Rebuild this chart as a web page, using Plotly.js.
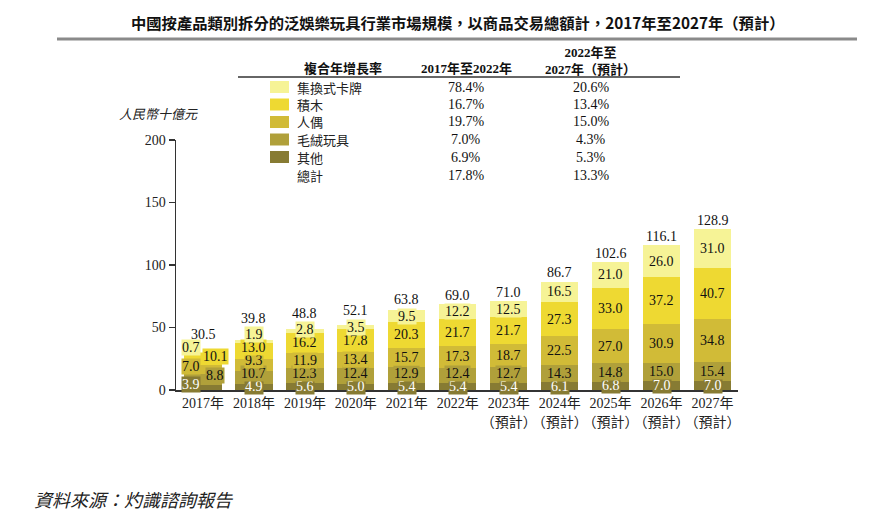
<!DOCTYPE html>
<html>
<head>
<meta charset="utf-8">
<script src="https://cdn.plot.ly/plotly-3.0.1.min.js"></script>
<style>
html,body{margin:0;padding:0;background:#fff;}
#chart{width:896px;height:521px;}
</style>
</head>
<body>
<div id="chart"></div>
<script>
// ---- data ----
const categories = ['2017年','2018年','2019年','2020年','2021年','2022年',
  '2023年<br>（預計）','2024年<br>（預計）','2025年<br>（預計）','2026年<br>（預計）','2027年<br>（預計）'];
const others = [3.9,4.9,5.6,5.0,5.4,5.4,5.4,6.1,6.8,7.0,7.0];
const plush  = [8.8,10.7,12.3,12.4,12.9,12.4,12.7,14.3,14.8,15.0,15.4];
const dolls  = [7.0,9.3,11.9,13.4,15.7,17.3,18.7,22.5,27.0,30.9,34.8];
const blocks = [10.1,13.0,16.2,17.8,20.3,21.7,21.7,27.3,33.0,37.2,40.7];
const cards  = [0.7,1.9,2.8,3.5,9.5,12.2,12.5,16.5,21.0,26.0,31.0];
const totals = [30.5,39.8,48.8,52.1,63.8,69.0,71.0,86.7,102.6,116.1,128.9];

const seriesNames = ['集換式卡牌','積木','人偶','毛絨玩具','其他'];
const cagr1722 = ['78.4%','16.7%','19.7%','7.0%','6.9%'];
const cagr2227 = ['20.6%','13.4%','15.0%','4.3%','5.3%'];
const totalName = '總計';
const totalCagr1722 = '17.8%';
const totalCagr2227 = '13.3%';

const titleText = '中國按產品類別拆分的泛娛樂玩具行業市場規模，以商品交易總額計，2017年至2027年（預計）';
const yTitle = '人民幣十億元';
const sourceText = '資料來源：灼識諮詢報告';
const hdr1 = '複合年增長率';
const hdr2 = '2017年至2022年';
const hdr3 = '2022年至<br>2027年（預計）';

// ---- styles ----
const colors = {cards:'#F6F396', blocks:'#EED932', dolls:'#D1BB37', plush:'#B0A03A', others:'#877B33'};
const legendColors = [colors.cards, colors.blocks, colors.dolls, colors.plush, colors.others];
const SERIF = '"Liberation Serif", "Noto Sans CJK TC", serif';
const CJK = '"Noto Sans CJK TC", "Liberation Serif", serif';

// plot geometry in pixels
const L = 176, R = 738, T = 140, B = 390;
const px2x = p => (p - L) / (R - L);
const py2y = p => (B - p) / (B - T);

// stack order bottom -> top
const stack = [
  {name:'其他', vals:others, color:colors.others, txt:'#ffffff'},
  {name:'毛絨玩具', vals:plush, color:colors.plush, txt:'#111'},
  {name:'人偶', vals:dolls, color:colors.dolls, txt:'#111'},
  {name:'積木', vals:blocks, color:colors.blocks, txt:'#111'},
  {name:'集換式卡牌', vals:cards, color:colors.cards, txt:'#111'}
];

const traces = stack.map(s => ({
  type:'bar', x:categories, y:s.vals, name:s.name,
  marker:{color:s.color, line:{width:0}}, hoverinfo:'skip', showlegend:false
}));

const annotations = [];
const shapes = [];

// segment labels
categories.forEach((c, i) => {
  let base = 0, prev = -1e9;
  const first = (i === 0);
  const gap = first ? 7 : 10.4;
  stack.forEach((s, k) => {
    const v = s.vals[i];
    const center = base + v / 2;
    let yl = Math.max(center, prev + gap);
    prev = yl;
    annotations.push({
      x:c, y:yl, xref:'x', yref:'y', text:v.toFixed(1), showarrow:false,
      font:{family:SERIF, size:14, color:s.txt}, bgcolor:s.color, borderpad:0,
      xshift: first ? (k % 2 === 0 ? -12 : 12) : 0,
      yshift: first ? 3 : 0
    });
    base += v;
  });
  const ty = Math.max(totals[i] + 7, prev + 13);
  annotations.push({
    x:c, y:ty, xref:'x', yref:'y', text:totals[i].toFixed(1), showarrow:false,
    font:{family:SERIF, size:14, color:'#111'}
  });
});

// title and rule
annotations.push({xref:'paper', yref:'paper', x:px2x(458), y:py2y(22), text:'<b>'+titleText+'</b>',
  showarrow:false, font:{family:CJK, size:15.3, color:'#111'}, xanchor:'center', yanchor:'middle'});
shapes.push({type:'line', xref:'paper', yref:'paper', x0:px2x(57), x1:px2x(857), y0:py2y(39), y1:py2y(39),
  line:{color:'#8a8a8a', width:3}});

// y axis title
annotations.push({xref:'paper', yref:'paper', x:px2x(158), y:py2y(114), text:'<i>'+yTitle+'</i>',
  showarrow:false, font:{family:CJK, size:13, color:'#222'}, xanchor:'center', yanchor:'middle'});

// source
annotations.push({xref:'paper', yref:'paper', x:px2x(32), y:py2y(499), text:'<i>'+sourceText+'</i>',
  showarrow:false, font:{family:CJK, size:18, color:'#222'}, xanchor:'left', yanchor:'middle'});

// table header
annotations.push({xref:'paper', yref:'paper', x:px2x(343), y:py2y(69), text:'<b>'+hdr1+'</b>',
  showarrow:false, font:{family:SERIF, size:13, color:'#111'}, xanchor:'center', yanchor:'middle'});
annotations.push({xref:'paper', yref:'paper', x:px2x(466), y:py2y(69), text:'<b>'+hdr2+'</b>',
  showarrow:false, font:{family:SERIF, size:13, color:'#111'}, xanchor:'center', yanchor:'middle'});
annotations.push({xref:'paper', yref:'paper', x:px2x(590), y:py2y(61), text:'<b>'+hdr3+'</b>',
  showarrow:false, font:{family:SERIF, size:13, color:'#111'}, xanchor:'center', yanchor:'middle', align:'center'});
shapes.push({type:'line', xref:'paper', yref:'paper', x0:px2x(238), x1:px2x(680), y0:py2y(77), y1:py2y(77),
  line:{color:'#333', width:1.5}});

// table rows
const rowY = [87, 104.5, 122, 139.5, 157];
seriesNames.forEach((n, k) => {
  const yc = rowY[k];
  shapes.push({type:'rect', xref:'paper', yref:'paper', x0:px2x(270), x1:px2x(289),
    y0:py2y(yc + 6), y1:py2y(yc - 6), fillcolor:legendColors[k], line:{width:0}});
  annotations.push({xref:'paper', yref:'paper', x:px2x(295), y:py2y(yc), text:n, showarrow:false,
    font:{family:CJK, size:13, color:'#222'}, xanchor:'left', yanchor:'middle'});
  annotations.push({xref:'paper', yref:'paper', x:px2x(466), y:py2y(yc), text:cagr1722[k], showarrow:false,
    font:{family:SERIF, size:14, color:'#111'}, xanchor:'center', yanchor:'middle'});
  annotations.push({xref:'paper', yref:'paper', x:px2x(591), y:py2y(yc), text:cagr2227[k], showarrow:false,
    font:{family:SERIF, size:14, color:'#111'}, xanchor:'center', yanchor:'middle'});
});
annotations.push({xref:'paper', yref:'paper', x:px2x(295), y:py2y(175), text:totalName, showarrow:false,
  font:{family:CJK, size:13, color:'#222'}, xanchor:'left', yanchor:'middle'});
annotations.push({xref:'paper', yref:'paper', x:px2x(466), y:py2y(175), text:totalCagr1722, showarrow:false,
  font:{family:SERIF, size:14, color:'#111'}, xanchor:'center', yanchor:'middle'});
annotations.push({xref:'paper', yref:'paper', x:px2x(591), y:py2y(175), text:totalCagr2227, showarrow:false,
  font:{family:SERIF, size:14, color:'#111'}, xanchor:'center', yanchor:'middle'});

const layout = {
  width:896, height:521,
  margin:{l:L, r:896-R, t:T, b:521-B, pad:0},
  paper_bgcolor:'#fff', plot_bgcolor:'#fff',
  barmode:'stack', bargap:0.27,
  showlegend:false,
  xaxis:{
    type:'category', range:[-0.53, 10.5], showgrid:false, zeroline:false,
    showline:true, linecolor:'#333', linewidth:1.5, ticks:'', ticklen:0, tickangle:0,
    tickfont:{family:SERIF, size:14, color:'#222'}, fixedrange:true
  },
  yaxis:{
    range:[0,200], tickvals:[0,50,100,150,200], ticktext:['0','50','100','150','200'],
    showgrid:false, zeroline:false, showline:true, linecolor:'#333', linewidth:1.5,
    ticks:'outside', ticklen:6, tickwidth:1.5, tickcolor:'#333',
    tickfont:{family:SERIF, size:14, color:'#222'}, fixedrange:true
  },
  annotations:annotations,
  shapes:shapes
};

Plotly.newPlot('chart', traces, layout, {displayModeBar:false, staticPlot:true});
</script>
</body>
</html>
